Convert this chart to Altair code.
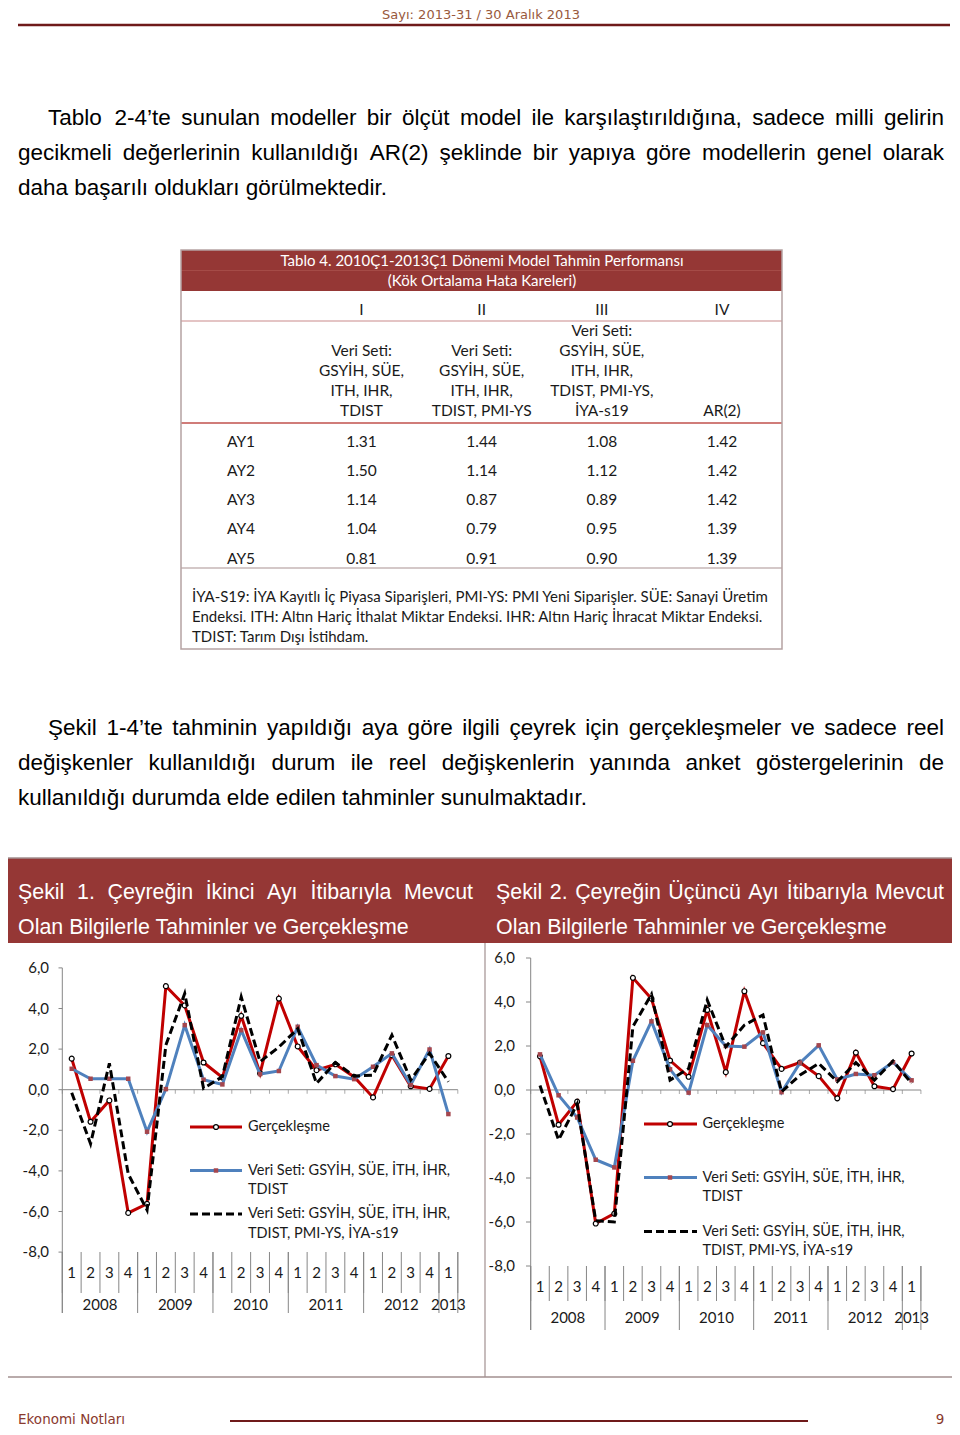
import altair as alt
import pandas as pd

# ---------------- figure data (quarterly growth, %, 2008Q1 - 2013Q1) ----------------
quarters = ["1", "2", "3", "4"] * 5 + ["1"]
years = ["2008", "2009", "2010", "2011", "2012", "2013"]
y_ticks = [6, 4, 2, 0, -2, -4, -6, -8]

actual = [1.53, -1.58, -0.53, -6.07, -5.62, 5.10, 4.15, 1.34, 0.60, 3.64, 0.81,
          4.49, 2.13, 0.96, 1.25, 0.63, -0.38, 1.70, 0.17, 0.04, 1.66]
fig1_set1 = [1.03, 0.54, 0.54, 0.54, -2.07, 0.03, 3.18, 0.49, 0.26, 2.93, 0.77,
             0.92, 3.10, 1.21, 0.67, 0.52, 1.13, 1.79, 0.23, 1.98, -1.20]
fig1_set3 = [-0.15, -2.66, 1.30, -4.15, -5.93, 2.20, 4.74, 0.07, 0.64, 4.57, 1.38,
             2.10, 3.00, 0.31, 1.34, 0.67, 0.72, 2.69, 0.48, 1.79, 0.39]
fig2_set1 = [1.62, -0.24, -1.25, -3.17, -3.52, 1.33, 3.12, 0.94, -0.12, 2.95, 2.00,
             1.97, 2.62, -0.10, 1.24, 2.03, 0.48, 0.73, 0.67, 1.26, 0.44]
fig2_set3 = [0.20, -2.27, -0.64, -5.94, -6.00, 2.88, 4.35, 0.45, 0.98, 4.09, 1.97,
             2.95, 3.41, -0.08, 0.68, 1.21, 0.38, 1.24, 0.45, 1.32, 0.30]

leg_actual = "Gerçekleşme"
leg_set1 = ["Veri Seti: GSYİH, SÜE, İTH, İHR,", "TDIST"]
leg_set3 = ["Veri Seti: GSYİH, SÜE, İTH, İHR,", "TDIST, PMI-YS, İYA-s19"]

# ---------------- table data ----------------
table_rows = ["AY1", "AY2", "AY3", "AY4", "AY5"]
table_cols = ["I", "II", "III", "IV"]
col_I = [1.31, 1.50, 1.14, 1.04, 0.81]
col_II = [1.44, 1.14, 0.87, 0.79, 0.91]
col_III = [1.08, 1.12, 0.89, 0.95, 0.90]
col_IV = [1.42, 1.42, 1.42, 1.39, 1.39]
col_headers = [
    ["Veri Seti:", "GSYİH, SÜE,", "ITH, IHR,", "TDIST"],
    ["Veri Seti:", "GSYİH, SÜE,", "ITH, IHR,", "TDIST, PMI-YS"],
    ["Veri Seti:", "GSYİH, SÜE,", "ITH, IHR,", "TDIST, PMI-YS,", "İYA-s19"],
    ["AR(2)"],
]
table_title = ["Tablo 4. 2010Ç1-2013Ç1 Dönemi Model Tahmin Performansı",
               "(Kök Ortalama Hata Kareleri)"]
table_note = [
    "İYA-S19: İYA Kayıtlı İç Piyasa Siparişleri, PMI-YS: PMI Yeni Siparişler. SÜE: Sanayi Üretim",
    "Endeksi. ITH: Altın Hariç İthalat Miktar Endeksi. IHR: Altın Hariç İhracat Miktar Endeksi.",
    "TDIST: Tarım Dışı İstihdam.",
]

# ---------------- page text ----------------
header_text = "Sayı: 2013-31 / 30 Aralık 2013"
para1 = ["Tablo 2-4’te sunulan modeller bir ölçüt model ile karşılaştırıldığına, sadece milli gelirin",
         "gecikmeli değerlerinin kullanıldığı AR(2) şeklinde bir yapıya göre modellerin genel olarak",
         "daha başarılı oldukları görülmektedir."]
para2 = ["Şekil 1-4’te tahminin yapıldığı aya göre ilgili çeyrek için gerçekleşmeler ve sadece reel",
         "değişkenler kullanıldığı durum ile reel değişkenlerin yanında anket göstergelerinin de",
         "kullanıldığı durumda elde edilen tahminler sunulmaktadır."]
fig1_title = ["Şekil 1. Çeyreğin İkinci Ayı İtibarıyla Mevcut",
              "Olan Bilgilerle Tahminler ve Gerçekleşme"]
fig2_title = ["Şekil 2. Çeyreğin Üçüncü Ayı İtibarıyla Mevcut",
              "Olan Bilgilerle Tahminler ve Gerçekleşme"]
footer_left = "Ekonomi Notları"
footer_right = "9"

# ---------------- layout helpers ----------------
OFF = 8  # page margin
SANS = "Liberation Sans"
CAL = "Lato"
RED_BAND = "#953735"

AW = {' ': 278, '.': 278, ',': 278, '-': 333, '(': 333, ')': 333, '’': 222, ':': 278,
      'a': 556, 'b': 556, 'c': 500, 'd': 556, 'e': 556, 'f': 278, 'g': 556, 'h': 556,
      'i': 222, 'j': 222, 'k': 500, 'l': 222, 'm': 833, 'n': 556, 'o': 556, 'p': 556,
      'q': 556, 'r': 333, 's': 500, 't': 278, 'u': 556, 'v': 500, 'w': 722, 'x': 500,
      'y': 500, 'z': 500, 'A': 667, 'B': 667, 'C': 722, 'D': 722, 'E': 667, 'F': 611,
      'G': 778, 'H': 722, 'I': 278, 'J': 500, 'K': 667, 'L': 556, 'M': 833, 'N': 722,
      'O': 778, 'P': 667, 'R': 722, 'S': 667, 'T': 611, 'U': 722, 'V': 667, 'Y': 667,
      'ı': 278, 'ş': 500, 'Ş': 667, 'ç': 500, 'Ç': 722, 'ğ': 556, 'ö': 556, 'Ö': 778,
      'ü': 556, 'Ü': 722, 'İ': 278}


def tw(s, size):
    return sum(AW.get(c, 556) for c in s) * size / 1000.0


def justify(line, x0, x1, y, size, last=False):
    words = line.split(" ")
    if last or len(words) < 2:
        return [(x0, y, line)]
    total = sum(tw(w, size) for w in words)
    gap = (x1 - x0 - total) / (len(words) - 1)
    out, x = [], x0
    for w in words:
        out.append((x, y, w))
        x += tw(w, size) + gap
    return out


def px_text(rows, **mk):
    df = pd.DataFrame(rows, columns=["x", "y", "t"])
    df["x"] = df["x"] - OFF
    df["y"] = df["y"] - OFF
    return alt.Chart(df).mark_text(**mk).encode(
        x=alt.X("x:Q", scale=None, axis=None),
        y=alt.Y("y:Q", scale=None, axis=None),
        text="t:N")


def px_shape(kind, rows, **mk):
    df = pd.DataFrame(rows, columns=["x", "y", "x2", "y2"]) - OFF
    base = alt.Chart(df)
    m = base.mark_rule(**mk) if kind == "rule" else base.mark_rect(**mk)
    return m.encode(x=alt.X("x:Q", scale=None, axis=None), x2="x2:Q",
                    y=alt.Y("y:Q", scale=None, axis=None), y2="y2:Q")


layers = []

# ---------------- page header / footer ----------------
layers.append(px_text([(481, 8.5, header_text)], font="DejaVu Sans", fontSize=13,
                      color="#98593d", align="center", baseline="top"))
layers.append(px_shape("rule", [(18, 25, 950, 25)], color="#6f1a1a", strokeWidth=2.5))
layers.append(px_text([(18, 1420, footer_left)], font="DejaVu Sans", fontSize=13.5,
                      color="#8a3a2e", align="left", baseline="middle"))
layers.append(px_text([(940, 1420, footer_right)], font="DejaVu Sans", fontSize=13.5,
                      color="#8a3a2e", align="center", baseline="middle"))
layers.append(px_shape("rule", [(230, 1421, 808, 1421)], color="#6f1a1a", strokeWidth=2))

# ---------------- paragraphs (justified) ----------------
PS = 22.5
words = []
for k, (line, x0, y) in enumerate(zip(para1, [48, 18, 18], [118, 153, 188])):
    words += justify(line, x0, 944, y, PS, last=(k == 2))
for k, (line, x0, y) in enumerate(zip(para2, [48, 18, 18], [728, 763, 798])):
    words += justify(line, x0, 944, y, PS, last=(k == 2))
layers.append(px_text(words, font=SANS, fontSize=PS, color="#000000",
                      align="left", baseline="middle"))

# ---------------- table ----------------
TX0, TX1 = 181, 782
layers.append(px_shape("rect", [(TX0, 250, TX1, 291)], color=RED_BAND))
layers.append(px_shape("rule", [(TX0, 270.5, TX1, 270.5)], color="#a9504c", strokeWidth=0.8))
layers.append(px_text([(482, 261, table_title[0]), (482, 281, table_title[1])],
                      font=CAL, fontSize=15, color="#ffffff", align="center", baseline="middle"))
layers.append(px_shape("rule", [(TX0, 321, TX1, 321)], color="#c9898a", strokeWidth=1))
layers.append(px_shape("rule", [(TX0, 423, TX1, 423)], color="#c0504d", strokeWidth=1.3))
layers.append(px_shape("rule", [(TX0, 568, TX1, 568)], color="#a99292", strokeWidth=1.2))
layers.append(px_shape("rect", [(TX0, 250, TX1, 649)], fillOpacity=0, stroke="#b5a2a2",
                       strokeWidth=1.5))

cs = alt.Scale(type="point", domain=table_cols, range=[361.5 - OFF, 722 - OFF], padding=0)
rs = alt.Scale(type="point", domain=table_rows, range=[441.5 - OFF, 558.5 - OFF], padding=0)
tfont = dict(font=CAL, fontSize=15.5, color="#1a1a1a", baseline="middle")

layers.append(alt.Chart(pd.DataFrame({"c": table_cols})).mark_text(align="center", **tfont).encode(
    x=alt.X("c:N", scale=cs, axis=None), y=alt.value(310 - OFF), text="c:N"))
for lev in range(5):
    recs = [{"c": c, "t": h[-1 - lev]} for c, h in zip(table_cols, col_headers) if len(h) > lev]
    layers.append(alt.Chart(pd.DataFrame(recs)).mark_text(align="center", **tfont).encode(
        x=alt.X("c:N", scale=cs, axis=None), y=alt.value(410.5 - 20 * lev - OFF), text="t:N"))

cells = []
for c, vals in zip(table_cols, [col_I, col_II, col_III, col_IV]):
    for r, v in zip(table_rows, vals):
        cells.append({"row": r, "col": c, "val": v})
layers.append(alt.Chart(pd.DataFrame(cells)).mark_text(align="center", **tfont).encode(
    x=alt.X("col:N", scale=cs, axis=None), y=alt.Y("row:N", scale=rs, axis=None),
    text=alt.Text("val:Q", format=".2f")))
layers.append(alt.Chart(pd.DataFrame({"row": table_rows})).mark_text(align="center", **tfont).encode(
    x=alt.value(241 - OFF), y=alt.Y("row:N", scale=rs, axis=None), text="row:N"))
layers.append(px_text([(192, 597, table_note[0]), (192, 617, table_note[1]), (192, 637, table_note[2])],
                      font=CAL, fontSize=15, color="#1a1a1a", align="left", baseline="middle"))

# ---------------- figure box ----------------
layers.append(px_shape("rect", [(7, 858, 957, 943)], color=RED_BAND))
layers.append(px_shape("rule", [(485, 943, 485, 1377)], color="#a29090", strokeWidth=1.2))
layers.append(px_shape("rect", [(7, 858, 957, 1377)], fillOpacity=0, stroke="#a29090",
                       strokeWidth=1.5))
TS = 21.4
twords = []
twords += justify(fig1_title[0], 18, 473, 893, TS)
twords += justify(fig1_title[1], 18, 473, 928, TS, last=True)
twords += justify(fig2_title[0], 496, 944, 893, TS)
twords += justify(fig2_title[1], 496, 944, 928, TS, last=True)
layers.append(px_text(twords, font=SANS, fontSize=TS, color="#ffffff",
                      align="left", baseline="middle"))

# ---------------- the two line charts ----------------
RED, BLUE, SQ = "#c00000", "#4f81bd", "#a5464d"
AXC = "#868686"
LFONT = dict(font=CAL, fontSize=15, color="#1a1a1a")
GFONT = dict(font=CAL, fontSize=14.5, color="#1a1a1a")


def line_chart(act, m1, m3, g):
    xs = alt.Scale(domain=[-0.5, 20.5], range=[g["xr"][0] - OFF, g["xr"][1] - OFF],
                   nice=False, zero=False)
    ys = alt.Scale(domain=[-8, 6], range=[g["yr"][0] - OFF, g["yr"][1] - OFF],
                   nice=False, zero=False)
    df = pd.DataFrame({"i": list(range(21)), "q": quarters, "act": act, "m1": m1, "m3": m3})
    X = alt.X("i:Q", scale=xs, axis=None)

    def Y(f):
        return alt.Y(f + ":Q", scale=ys, axis=None)

    out = []
    # value axis
    out.append(alt.Chart(pd.DataFrame({"b": [-0.5]})).mark_rule(color=AXC, strokeWidth=1).encode(
        x=alt.X("b:Q", scale=xs, axis=None), y=alt.value(g["yr"][1] - OFF),
        y2=alt.value(g["long_bot"] - OFF)))
    tdf = pd.DataFrame({"v": y_ticks, "lab": [f"{v:.1f}".replace(".", ",") for v in y_ticks]})
    out.append(alt.Chart(tdf).mark_rule(color=AXC, strokeWidth=1).encode(
        x=alt.value(g["tick_x"] - OFF), x2=alt.value(g["xr"][0] - OFF), y=Y("v")))
    out.append(alt.Chart(tdf).mark_text(align="right", baseline="middle", **LFONT).encode(
        x=alt.value(g["lab_x"] - OFF), y=Y("v"), text="lab:N"))
    # category axis at zero
    out.append(alt.Chart(pd.DataFrame({"a": [-0.5], "b": [20.5], "z": [0]})).mark_rule(
        color=AXC, strokeWidth=1).encode(x=alt.X("a:Q", scale=xs, axis=None), x2="b:Q", y=Y("z")))
    bdf = pd.DataFrame({"b": [k + 0.5 for k in range(-1, 21)], "z": 0})
    out.append(alt.Chart(bdf).mark_tick(orient="vertical", size=4, thickness=1, color=AXC,
                                        yOffset=2).encode(x=alt.X("b:Q", scale=xs, axis=None), y=Y("z")))
    # multi-level category labels
    out.append(alt.Chart(bdf).mark_rule(color=AXC, strokeWidth=1).encode(
        x=alt.X("b:Q", scale=xs, axis=None), y=alt.value(g["sep_top"] - OFF),
        y2=alt.value(g["short_bot"] - OFF)))
    ydf = pd.DataFrame({"b": [-0.5, 3.5, 7.5, 11.5, 15.5, 19.5, 20.5]})
    out.append(alt.Chart(ydf).mark_rule(color=AXC, strokeWidth=1).encode(
        x=alt.X("b:Q", scale=xs, axis=None), y=alt.value(g["sep_top"] - OFF),
        y2=alt.value(g["long_bot"] - OFF)))
    out.append(alt.Chart(df).mark_text(align="center", baseline="middle", **LFONT).encode(
        x=X, y=alt.value(g["q_y"] - OFF), text="q:N"))
    ylab = pd.DataFrame({"c": [1.5, 5.5, 9.5, 13.5, 17.5, 20], "yr": years})
    out.append(alt.Chart(ylab).mark_text(align="center", baseline="middle", **LFONT).encode(
        x=alt.X("c:Q", scale=xs, axis=None), y=alt.value(g["yr_y"] - OFF), text="yr:N"))
    # series
    base = alt.Chart(df)
    out.append(base.mark_line(color=RED, strokeWidth=3).encode(x=X, y=Y("act")))
    out.append(base.mark_point(shape="circle", filled=True, fill="white", stroke="black",
                               strokeWidth=1.2, size=24, opacity=1).encode(x=X, y=Y("act")))
    out.append(base.mark_line(color=BLUE, strokeWidth=3).encode(x=X, y=Y("m1")))
    out.append(base.mark_square(color=SQ, size=20, opacity=1).encode(x=X, y=Y("m1")))
    out.append(base.mark_line(color="black", strokeWidth=3, strokeDash=[8, 4]).encode(x=X, y=Y("m3")))
    # legend
    L = g["leg"]
    one = pd.DataFrame({"k": [0]})
    lx0, lx1, lcx = L["x0"] - OFF, L["x1"] - OFF, L["cx"] - OFF
    out.append(alt.Chart(one).mark_rule(color=RED, strokeWidth=3).encode(
        x=alt.value(lx0), x2=alt.value(lx1), y=alt.value(L["y_act"] - OFF)))
    out.append(alt.Chart(one).mark_point(shape="circle", filled=True, fill="white", stroke="black",
                                         strokeWidth=1.2, size=24, opacity=1).encode(
        x=alt.value(lcx), y=alt.value(L["y_act"] - OFF)))
    out.append(alt.Chart(one).mark_rule(color=BLUE, strokeWidth=3).encode(
        x=alt.value(lx0), x2=alt.value(lx1), y=alt.value(L["y_s1"] - OFF)))
    out.append(alt.Chart(one).mark_square(color=SQ, size=20, opacity=1).encode(
        x=alt.value(lcx), y=alt.value(L["y_s1"] - OFF)))
    out.append(alt.Chart(one).mark_rule(color="black", strokeWidth=3, strokeDash=[8, 4]).encode(
        x=alt.value(lx0), x2=alt.value(lx1), y=alt.value(L["y_s3"] - OFF)))
    leg_rows = [(L["tx"], L["y_act"], leg_actual),
                (L["tx"], L["y_s1"], leg_set1[0]), (L["tx"], L["y_s1"] + 19.5, leg_set1[1]),
                (L["tx"], L["y_s3"], leg_set3[0]), (L["tx"], L["y_s3"] + 19.5, leg_set3[1])]
    out.append(px_text(leg_rows, align="left", baseline="middle", **GFONT))
    return out


g1 = dict(xr=[62.3, 457.8], yr=[1252.1, 967.9], lab_x=49, tick_x=58.5,
          sep_top=1252, short_bot=1293, long_bot=1313, q_y=1273, yr_y=1305,
          leg=dict(x0=190, x1=242, cx=216, tx=248, y_act=1127, y_s1=1170.5, y_s3=1214))
g2 = dict(xr=[530.7, 920.9], yr=[1266, 958], lab_x=515, tick_x=526,
          sep_top=1266, short_bot=1301, long_bot=1330, q_y=1286.5, yr_y=1318,
          leg=dict(x0=644, x1=697, cx=670, tx=702.5, y_act=1124, y_s1=1177.5, y_s3=1231.5))

layers += line_chart(actual, fig1_set1, fig1_set3, g1)
layers += line_chart(actual, fig2_set1, fig2_set3, g2)

chart = alt.layer(*layers).resolve_scale(x="independent", y="independent").properties(
    width=944, height=1419, padding=0, background="white",
    autosize=alt.AutoSizeParams(type="none"),
).configure_view(stroke=None)

chart.save("out.html", embed_options={"renderer": "svg", "actions": False})
